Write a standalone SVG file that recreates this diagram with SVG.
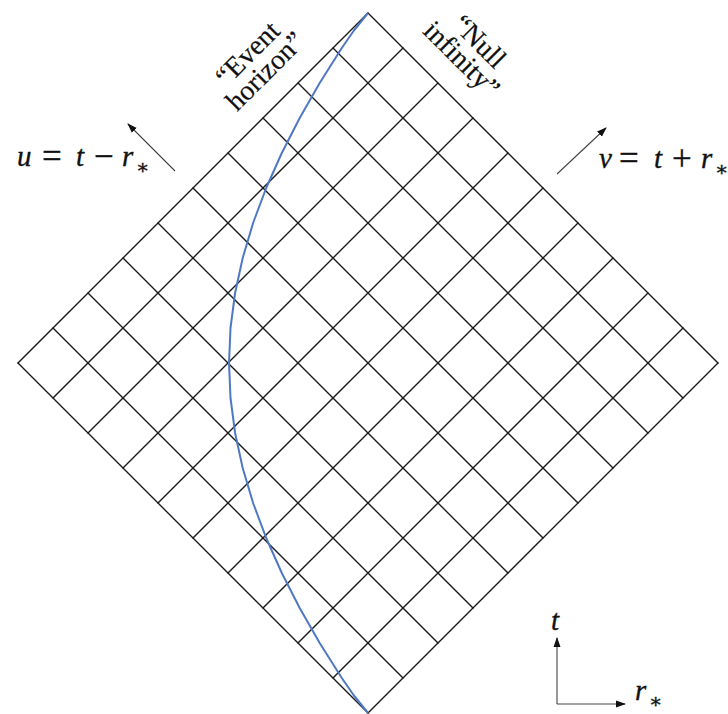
<svg xmlns="http://www.w3.org/2000/svg" width="728" height="714" viewBox="0 0 728 714">
<defs>
<style>
.grid line{stroke:#1a1a1a;stroke-width:1.4;stroke-linecap:round}
.math{font-family:"Liberation Serif","DejaVu Serif",serif;font-style:italic;font-size:29px;fill:#111;stroke:#111;stroke-width:0.35}
.op{font-style:normal;font-size:35px}
.sub{font-style:normal;font-size:20px}
.rm{font-family:"Liberation Serif","DejaVu Serif",serif;font-size:28px;fill:#111;stroke:#111;stroke-width:0.2}
.arr{stroke:#444;stroke-width:1.1;fill:none}
</style>
<marker id="ah" viewBox="0 0 10 10" refX="9" refY="5" markerWidth="10" markerHeight="10" markerUnits="userSpaceOnUse" orient="auto">
<path d="M0,1.5 L10,5 L0,8.5 Z" fill="#111"/>
</marker>
</defs>
<rect width="728" height="714" fill="#fff"/>
<g id="grid" class="grid">
<line x1="18" y1="363" x2="368" y2="713"/>
<line x1="53" y1="328" x2="403" y2="678"/>
<line x1="88" y1="293" x2="438" y2="643"/>
<line x1="123" y1="258" x2="473" y2="608"/>
<line x1="158" y1="223" x2="508" y2="573"/>
<line x1="193" y1="188" x2="543" y2="538"/>
<line x1="228" y1="153" x2="578" y2="503"/>
<line x1="263" y1="118" x2="613" y2="468"/>
<line x1="298" y1="83" x2="648" y2="433"/>
<line x1="333" y1="48" x2="683" y2="398"/>
<line x1="368" y1="13" x2="718" y2="363"/>
<line x1="18" y1="363" x2="368" y2="13"/>
<line x1="53" y1="398" x2="403" y2="48"/>
<line x1="88" y1="433" x2="438" y2="83"/>
<line x1="123" y1="468" x2="473" y2="118"/>
<line x1="158" y1="503" x2="508" y2="153"/>
<line x1="193" y1="538" x2="543" y2="188"/>
<line x1="228" y1="573" x2="578" y2="223"/>
<line x1="263" y1="608" x2="613" y2="258"/>
<line x1="298" y1="643" x2="648" y2="293"/>
<line x1="333" y1="678" x2="683" y2="328"/>
<line x1="368" y1="713" x2="718" y2="363"/>
</g>
<g id="horizon-curve">
<polyline fill="none" stroke="#4f78c4" stroke-width="2" stroke-linejoin="round" points="368,13 353.9,30.5 341.8,48 319.7,83 299.7,118 281.8,153 266.2,188 253.1,223 242.7,258 235.1,293 230.5,328 229,363 230.5,398 235.1,433 242.7,468 253.1,503 266.2,538 281.8,573 299.7,608 319.7,643 341.8,678 353.9,695.5 368,713"/>
</g>
<g id="connectors">
<line class="arr" x1="175" y1="171" x2="128" y2="124" marker-end="url(#ah)"/>
<line class="arr" x1="557" y1="174" x2="606" y2="128" marker-end="url(#ah)"/>
<line class="arr" x1="557" y1="704" x2="557" y2="638" marker-end="url(#ah)"/>
<line class="arr" x1="557" y1="704" x2="625" y2="704" marker-end="url(#ah)"/>
</g>
<g id="label-u">
<text class="math"><tspan x="17" y="166">u</tspan><tspan class="op" x="42" y="168">=</tspan><tspan x="76" y="166">t</tspan><tspan class="op" x="94" y="168">−</tspan><tspan x="122" y="166">r</tspan><tspan class="sub" x="136" y="174">∗</tspan></text>
</g>
<g id="label-v">
<text class="math"><tspan x="599" y="168">v</tspan><tspan class="op" x="619" y="170">=</tspan><tspan x="654" y="168">t</tspan><tspan class="op" x="672" y="170">+</tspan><tspan x="701" y="168">r</tspan><tspan class="sub" x="715" y="176">∗</tspan></text>
</g>
<g id="label-event-horizon">
<text class="rm" text-anchor="middle" transform="translate(254,60) rotate(-45)"><tspan x="0" y="0">“Event</tspan><tspan x="0" y="25">horizon”</tspan></text>
</g>
<g id="label-null-infinity">
<text class="rm" text-anchor="middle" transform="translate(473,48) rotate(45)"><tspan x="0" y="0">“Null</tspan><tspan x="0" y="25">infinity”</tspan></text>
</g>
<g id="axes-labels">
<text class="math" x="551" y="630">t</text>
<text class="math"><tspan x="635" y="700">r</tspan><tspan class="sub" x="649" y="708">∗</tspan></text>
</g>
</svg>
